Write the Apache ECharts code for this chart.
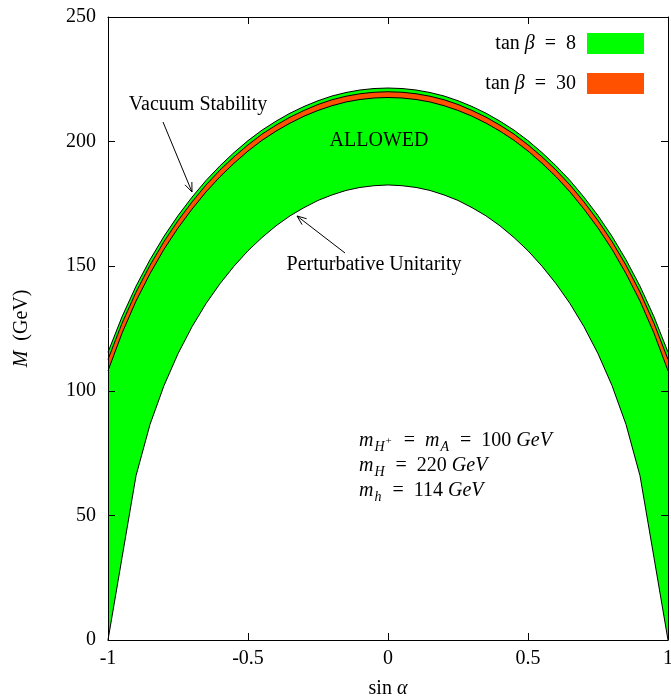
<!DOCTYPE html>
<html>
<head>
<meta charset="utf-8">
<script src="https://cdn.jsdelivr.net/npm/echarts@6/dist/echarts.min.js"></script>
<style>html,body{margin:0;padding:0;background:#fff}#c{width:671px;height:698px}</style>
</head>
<body>
<div id="c"></div>
<script>
// ---- data ----
const sinAlpha = [-1,-0.95,-0.9,-0.85,-0.8,-0.75,-0.7,-0.65,-0.6,-0.55,-0.5,-0.45,-0.4,-0.35,-0.3,-0.25,-0.2,-0.15,-0.1,-0.05,0,
  0.05,0.1,0.15,0.2,0.25,0.3,0.35,0.4,0.45,0.5,0.55,0.6,0.65,0.7,0.75,0.8,0.85,0.9,0.95,1];
// perturbative unitarity (lower bound)
const lowerBound = [0,33,65.9,86.5,102.1,114.9,125.7,135.0,143.0,150.0,156.2,161.5,166.2,170.2,173.5,176.4,178.6,180.4,181.6,182.3,182.6,
  182.3,181.6,180.4,178.6,176.4,173.5,170.2,166.2,161.5,156.2,150.0,143.0,135.0,125.7,114.9,102.1,86.5,65.9,33,0];
// vacuum stability, tan beta = 8 (upper bound)
const upperTan8 = [115.5,129.7,142.0,152.6,162.0,170.3,177.7,184.4,190.3,195.6,200.4,204.6,208.2,211.4,214.1,216.4,218.3,219.7,220.7,221.3,221.5,
  221.3,220.7,219.7,218.3,216.4,214.1,211.4,208.2,204.6,200.4,195.6,190.3,184.4,177.7,170.3,162.0,152.6,142.0,129.7,115.5];
// tan beta = 30 band (top / bottom)
const tan30Top = [112.6,127.1,139.6,150.4,159.9,168.3,175.8,182.6,188.6,193.9,198.7,203.0,206.6,209.8,212.5,214.9,216.8,218.2,219.2,219.8,220.0,
  219.8,219.2,218.2,216.8,214.9,212.5,209.8,206.6,203.0,198.7,193.9,188.6,182.6,175.8,168.3,159.9,150.4,139.6,127.1,112.6];
const tan30Bottom = [108.0,123.1,136.0,147.0,156.8,165.3,172.9,179.8,185.9,191.3,196.2,200.5,204.2,207.4,210.2,212.5,214.4,215.9,216.9,217.5,217.7,
  217.5,216.9,215.9,214.4,212.5,210.2,207.4,204.2,200.5,196.2,191.3,185.9,179.8,172.9,165.3,156.8,147.0,136.0,123.1,108.0];
const xTicks = [-1, -0.5, 0, 0.5, 1];
const yTicks = [0, 50, 100, 150, 200, 250];
const legendNames = ['tan β = 8', 'tan β = 30'];

const GREEN = '#00ff00', RED = '#ff5100';
const FONT = 'Liberation Serif';
const EQ = '\u2002=\u2002';
const pts = arr => sinAlpha.map((x, i) => [x, arr[i]]);

const chart = echarts.init(document.getElementById('c'), null, {renderer: 'canvas'});

const baseLine = {color: '#000', width: 1};
function areaSeries(name, arr, fill, z) {
  return {
    name, type: 'line', data: pts(arr), symbol: 'none', smooth: false, z,
    lineStyle: baseLine, itemStyle: {color: fill},
    areaStyle: {color: fill, opacity: 1}, xAxisIndex: 0, yAxisIndex: 0
  };
}

const axisCommon = () => ({
  axisLine: {show: true, onZero: false, lineStyle: {color: '#000', width: 1}},
  axisTick: {show: true, inside: true, length: 7, lineStyle: {color: '#000', width: 1}},
  splitLine: {show: false},
  z: 10
});

chart.setOption({
  animation: false,
  backgroundColor: '#fff',
  grid: {left: 108, right: 3, top: 17, bottom: 58, containLabel: false, outerBoundsMode: 'none'},
  xAxis: [
    Object.assign({type: 'value', min: xTicks[0], max: xTicks[xTicks.length-1], interval: 0.5, position: 'bottom',
      axisLabel: {fontFamily: FONT, fontSize: 20, color: '#000', margin: 9, formatter: v => String(v)},
      name: '{r|sin }{i|α}', nameLocation: 'middle', nameGap: 39,
      nameTextStyle: {fontFamily: FONT, fontSize: 20, color: '#000',
        rich: {r: {fontFamily: FONT, fontSize: 20}, i: {fontFamily: FONT, fontSize: 20, fontStyle: 'italic'}}}}, axisCommon()),
    Object.assign({type: 'value', min: xTicks[0], max: xTicks[xTicks.length-1], interval: 0.5, position: 'top',
      axisLabel: {show: false}}, axisCommon())
  ],
  yAxis: [
    Object.assign({type: 'value', min: yTicks[0], max: yTicks[yTicks.length-1], interval: 50, position: 'left',
      axisLabel: {fontFamily: FONT, fontSize: 20, color: '#000', margin: 12},
      name: '{i|M}{r|  (GeV)}', nameLocation: 'middle', nameGap: 76, nameRotate: 90,
      nameTextStyle: {fontFamily: FONT, fontSize: 20, color: '#000',
        rich: {r: {fontFamily: FONT, fontSize: 20}, i: {fontFamily: FONT, fontSize: 20, fontStyle: 'italic'}}}}, axisCommon()),
    Object.assign({type: 'value', min: yTicks[0], max: yTicks[yTicks.length-1], interval: 50, position: 'right',
      axisLabel: {show: false}}, axisCommon())
  ],
  legend: {
    data: legendNames.map((n, i) => ({name: n, icon: 'rect', itemStyle: {color: i === 0 ? GREEN : RED, borderWidth: 0}})),
    orient: 'vertical', right: 27, top: 33, align: 'right', padding: 0,
    itemWidth: 57, itemHeight: 21, itemGap: 19, selectedMode: false,
    formatter: n => '{r|tan }{i|β}{r|' + n.slice(5).replace(' = ', EQ) + '}',
    textStyle: {fontFamily: FONT, fontSize: 20, color: '#000', padding: [0, 6, 0, 0],
      rich: {r: {fontFamily: FONT, fontSize: 20, color: '#000'}, i: {fontFamily: FONT, fontSize: 20, fontStyle: 'italic', color: '#000'}}}
  },
  series: [
    areaSeries(legendNames[0], upperTan8, GREEN, 2),
    areaSeries(legendNames[1], tan30Top, RED, 3),
    areaSeries('tan30low', tan30Bottom, GREEN, 4),
    areaSeries('unitarity', lowerBound, '#ffffff', 5)
  ]
});

// annotations (pixel layout)
function arrow(x1, y1, x2, y2) {
  const a = Math.atan2(y2 - y1, x2 - x1), L = 10, w = 0.38;
  const p1 = [x2 - L * Math.cos(a - w), y2 - L * Math.sin(a - w)];
  const p2 = [x2 - L * Math.cos(a + w), y2 - L * Math.sin(a + w)];
  return [
    {type: 'line', z: 20, shape: {x1, y1, x2, y2}, style: {stroke: '#000', lineWidth: 1}},
    {type: 'polyline', z: 20, shape: {points: [p1, [x2, y2], p2]}, style: {stroke: '#000', lineWidth: 1, fill: null}}
  ];
}
const txt = (x, y, text, extra) => Object.assign({type: 'text', z: 20, x, y,
  style: Object.assign({text, fontFamily: FONT, fontSize: 20, fill: '#000', align: 'center', verticalAlign: 'middle'}, extra || {})});
const mathRich = {
  i: {fontFamily: FONT, fontSize: 20, fontStyle: 'italic', lineHeight: 26, verticalAlign: 'middle'},
  r: {fontFamily: FONT, fontSize: 20, lineHeight: 26, verticalAlign: 'middle'},
  sub: {fontFamily: FONT, fontSize: 14, fontStyle: 'italic', lineHeight: 14, verticalAlign: 'bottom', padding: [0, 1, 0, 1]},
  sup: {fontFamily: FONT, fontSize: 11, lineHeight: 11, verticalAlign: 'middle', padding: [0, 2, 0, 0]}
};
chart.setOption({
  graphic: [
    txt(198, 105, 'Vacuum Stability'),
    ...arrow(163, 122, 192, 192),
    txt(379, 141, 'ALLOWED'),
    txt(374, 265, 'Perturbative Unitarity'),
    ...arrow(345, 253, 297, 216),
    txt(359, 441, '{i|m}{sub|H}{sup|+}{r|' + EQ + '}{i|m}{sub|A}{r|' + EQ + '100 }{i|GeV}', {align: 'left', rich: mathRich}),
    txt(359, 466, '{i|m}{sub|H}{r|' + EQ + '220 }{i|GeV}', {align: 'left', rich: mathRich}),
    txt(359, 491, '{i|m}{sub|h}{r|' + EQ + '114 }{i|GeV}', {align: 'left', rich: mathRich})
  ]
});
</script>
</body>
</html>
